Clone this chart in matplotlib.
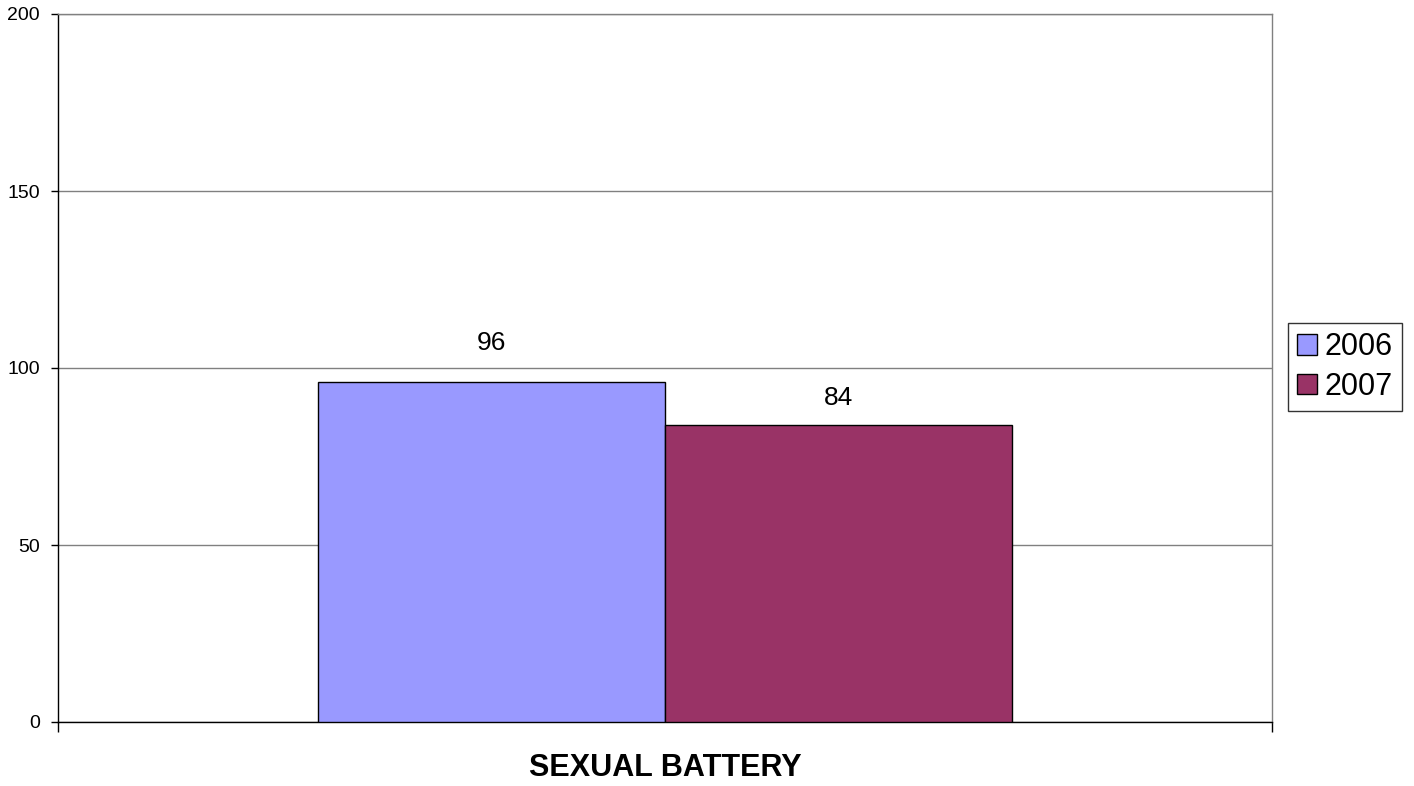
import numpy as np
import matplotlib
matplotlib.use("Agg")
from matplotlib import pyplot as plt

plt.rcParams['font.family'] = ['Liberation Sans', 'DejaVu Sans']

category = "SEXUAL BATTERY"
years = ["2006", "2007"]
counts = [96, 84]
colors = ["#9999FF", "#993366"]
label_offsets = [28, 19]  # points above bar top

W, H = 1414, 786
fig = plt.figure(figsize=(W / 100, H / 100), dpi=100)
ax = fig.add_axes([58 / W, (H - 722) / H, (1272 - 58) / W, (722 - 14) / H])

bar_w = 347 / 1214
for i, (yr, val, col) in enumerate(zip(years, counts, colors)):
	x0 = 0.5 - bar_w + i * bar_w
	ax.bar(x0, val, width=bar_w, align='edge', color=col, edgecolor='black',
		linewidth=1, label=yr, zorder=3)
	ax.annotate(str(val), (x0 + bar_w / 2, val), xytext=(0, label_offsets[i]),
		textcoords='offset points', ha='center', va='center', fontsize=19)

ax.set_xlim(0, 1)
ax.set_ylim(0, 200)
ax.set_yticks([0, 50, 100, 150, 200])
ax.tick_params(axis='y', direction='out', length=5, width=1, labelsize=14, pad=8)
ax.yaxis.grid(True, color='#808080', linewidth=1, zorder=0)

ax.set_xticks([0, 1])
ax.set_xticklabels([])
ax.tick_params(axis='x', which='major', direction='out', length=7, width=1)
ax.set_xticks([0.5], minor=True)
ax.set_xticklabels([category], minor=True, fontsize=22, fontweight='bold')
ax.tick_params(axis='x', which='minor', length=0, pad=22)

ax.spines['top'].set_color('#808080')
ax.spines['right'].set_color('#808080')
for s in ax.spines.values():
	s.set_linewidth(1)

leg = fig.legend(loc='center left', bbox_to_anchor=(1288 / W, 1 - 367 / H),
	fontsize=22, frameon=True, fancybox=False, edgecolor='black',
	handlelength=0.65, handleheight=0.65, handletextpad=0.25,
	borderpad=0.3, labelspacing=0.3, borderaxespad=0)
leg.get_frame().set_linewidth(1)

fig.savefig("out.png", dpi=100)
